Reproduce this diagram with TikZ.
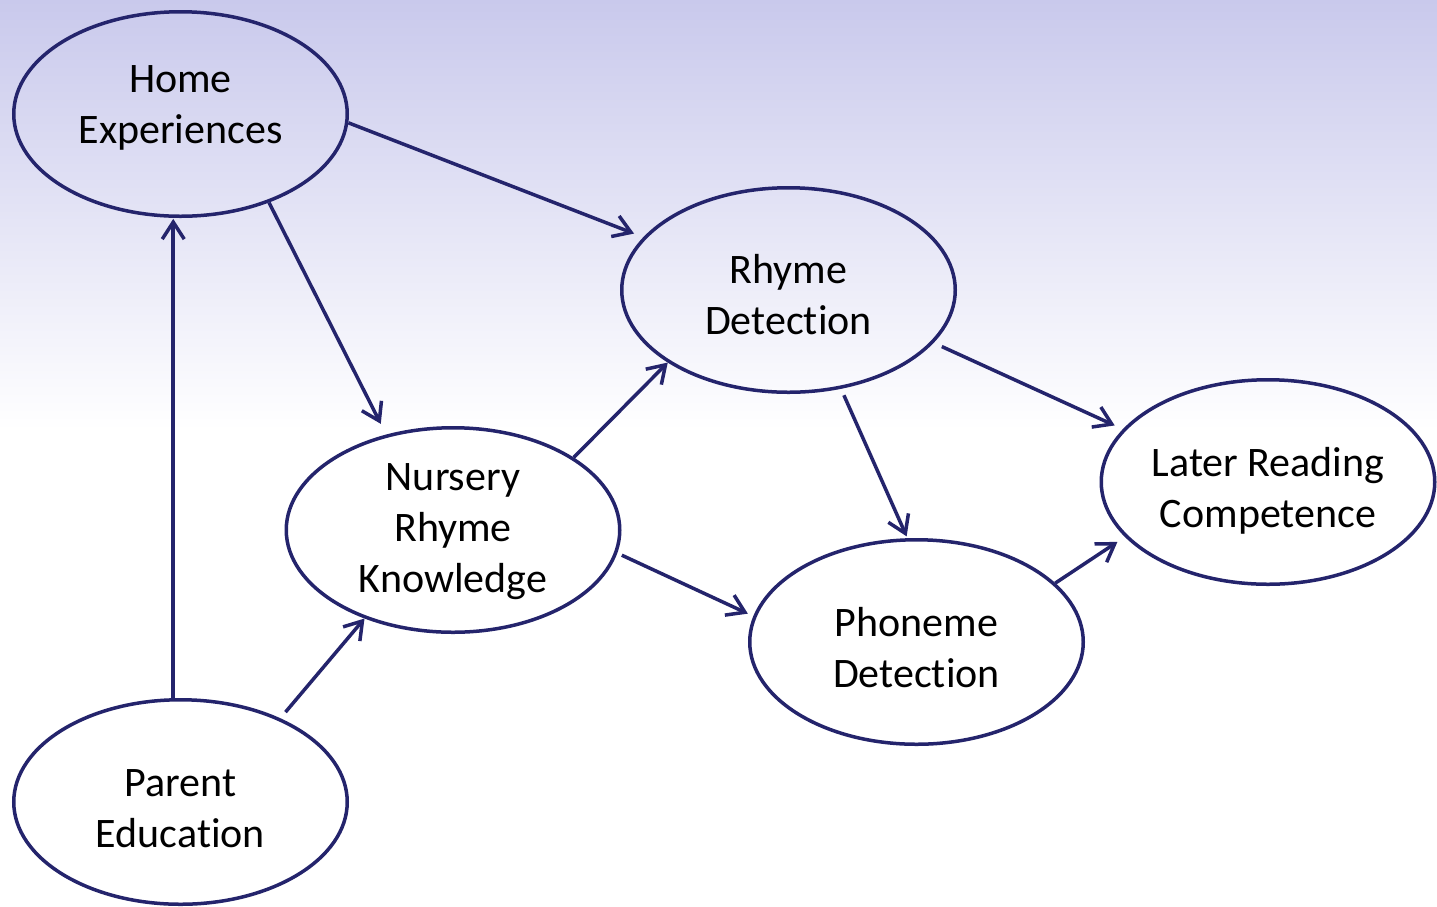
\documentclass[tikz,border=0pt]{standalone}
\usepackage{fontspec}
\setmainfont[Ligatures={NoCommon,NoContextual}]{Carlito}
\usetikzlibrary{shapes.geometric,arrows.meta}
\definecolor{navy}{RGB}{36,36,108}
\definecolor{lav}{RGB}{201,201,236}
\tikzset{
  oval/.style={ellipse,draw=navy,line width=3.5pt,minimum width=333.5pt,minimum height=204.5pt,inner sep=0pt},
  lbl/.style={align=center,inner sep=0pt,font=\fontsize{42}{51}\selectfont,text=black},
  link/.style={draw=navy,line width=3.5pt,-{Straight Barb[length=17pt,width=22pt]}}
}
\begin{document}
\begin{tikzpicture}[x=1pt,y=-1pt]
\useasboundingbox (0,0) rectangle (1437,906);
\shade[top color=lav,bottom color=white] (0,0) rectangle (1437,430);
\fill[white] (0,430) rectangle (1437,906);

\node[oval] (home) at (180.5,114) {};
\node[oval] (rhyme) at (788.5,290) {};
\node[oval] (nursery) at (453,530) {};
\node[oval] (later) at (1268,482) {};
\node[oval] (phoneme) at (916.5,642) {};
\node[oval] (parent) at (180.5,802) {};

\node[lbl] (homeT) at (180.5,107.3) {\strut Home\\\strut Experiences};
\node[lbl] (rhymeT) at (788.5,298.6) {\strut Rhyme\\\strut Detection};
\node[lbl] (nurseryT) at (453,531.5) {\strut Nursery\\\strut Rhyme\\\strut Knowledge};
\node[lbl] (laterT) at (1268,492) {\strut Later Reading\\\strut Competence};
\node[lbl] (phonemeT) at (916.5,652) {\strut Phoneme\\\strut Detection};
\node[lbl] (parentT) at (180.5,811.3) {\strut Parent\\\strut Education};

\draw[link,shorten >=10pt] (home.-3) -- (rhyme.160);
\draw[link,shorten >=12pt] (home.-45) -- (nursery.125);
\draw[link,shorten >=1pt] (parent.94) -- (home.-94);
\draw[link,shorten <=8pt] (parent.40) -- (nursery.-135);
\draw[link] (nursery.31) -- (rhyme.-149);
\draw[link,shorten <=5pt,shorten >=6pt] (nursery.-8) -- (phoneme.171);
\draw[link,shorten <=7pt,shorten >=2pt] (rhyme.-62) -- (phoneme.95);
\draw[link,shorten <=9pt,shorten >=9pt] (rhyme.-20) -- (later.160);
\draw[link,shorten >=9pt] (phoneme.23) -- (later.-159);
\end{tikzpicture}
\end{document}
